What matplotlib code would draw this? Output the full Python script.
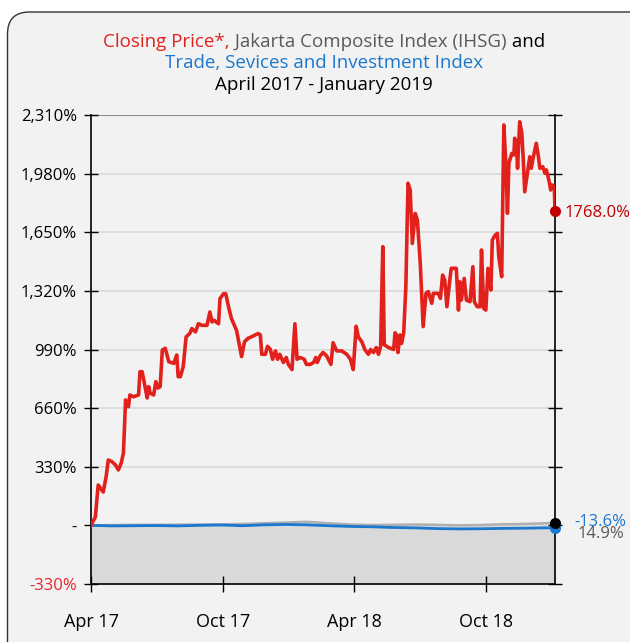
import matplotlib
matplotlib.use("Agg")
import matplotlib.pyplot as plt
from matplotlib.patches import FancyBboxPatch
import pandas as pd

plt.rcParams["font.family"] = ["Open Sans", "DejaVu Sans"]

# --- data (days since 1 Apr 2017, % change since start) ---------------------
START = pd.Timestamp("2017-04-01")

price_days = [0, 6, 10, 15, 17, 21, 24, 29, 34, 38, 42, 45, 48, 52, 54, 59, 66, 68,
              71, 74, 78, 80, 82, 87, 90, 93, 96, 99, 103, 108, 115, 119, 121,
              124, 128, 132, 137, 140, 145, 149, 154, 161, 165, 168, 171, 177,
              179, 184, 187, 191, 195, 199, 202, 206, 209, 213, 218, 223, 228,
              232, 235, 237, 242, 245, 249, 252, 256, 259, 262, 267, 271, 274,
              279, 283, 286, 290, 296, 299, 304, 309, 312, 314, 318, 322, 327,
              333, 336, 341, 348, 355, 360, 364, 368, 371, 376, 380, 385, 388,
              392, 396, 399, 402, 405, 407, 413, 420, 422, 424, 426, 429, 431,
              434, 437, 440, 443, 446, 450, 453, 457, 461, 465, 468, 473, 475,
              482, 485, 488, 491, 494, 498, 500, 507, 510, 512, 514, 518, 521,
              526, 530, 532, 536, 540, 542, 545, 548, 551, 555, 557, 561, 564,
              566, 570, 573, 576, 578, 580, 584, 587, 588, 591, 592, 595, 598,
              600, 602, 605, 609, 611, 614, 618, 621, 623, 627, 630, 632, 636,
              638, 640, 643, 644]
price_pct = [0, 47, 227, 199, 188, 274, 368, 359, 340, 312, 351, 408, 706, 668, 734,
             724, 734, 865, 865, 802, 717, 781, 745, 734, 809, 773, 781, 987,
             997, 921, 912, 959, 837, 837, 893, 1061, 1080, 1108, 1089, 1135,
             1126, 1126, 1201, 1145, 1154, 1135, 1276, 1304, 1304, 1228, 1163,
             1126, 1098, 1013, 950, 1033, 1053, 1062, 1072, 1080, 1072, 963,
             963, 1008, 990, 935, 982, 935, 963, 917, 945, 906, 877, 1135, 935,
             945, 935, 906, 906, 917, 945, 917, 954, 973, 954, 906, 1028, 982,
             982, 963, 935, 877, 1121, 1061, 1033, 990, 963, 990, 973, 1001,
             963, 1008, 1569, 1017, 1001, 990, 1084, 1072, 973, 1072, 1024,
             1084, 1344, 1926, 1888, 1587, 1756, 1718, 1475, 1119, 1306, 1316,
             1250, 1306, 1306, 1278, 1409, 1381, 1231, 1381, 1447, 1447, 1212,
             1371, 1268, 1390, 1268, 1259, 1456, 1259, 1231, 1231, 1550, 1222,
             1212, 1447, 1325, 1606, 1634, 1644, 1513, 1400, 2254, 2019, 1757,
             2038, 2094, 2085, 2179, 2113, 2010, 2272, 2207, 2057, 1878, 1963,
             2075, 2010, 2075, 2151, 2075, 2010, 2019, 1982, 2001, 1935, 1888,
             1916, 1907, 1768.0]

index_days = [0, 30, 60, 90, 120, 150, 180, 210, 240, 270, 300, 330, 360, 390, 420,
              450, 480, 510, 540, 570, 600, 630, 644]
ihsg_pct = [0, 2, 3, 3, 4, 5, 6, 8, 12, 16, 20, 12, 5, 2, 3, 5, 3, 0, 2, 6, 8, 12, 14.9]
trade_pct = [0, -3, -2, -1, -3, 0, 2, -2, 3, 5, 3, -2, -6, -8, -12, -14, -18, -20,
             -19, -17, -16, -14, -13.6]

yticks = [-330, 0, 330, 660, 990, 1320, 1650, 1980, 2310]
ytick_labels = ["-330%", "-", "330%", "660%", "990%", "1,320%", "1,650%", "1,980%", "2,310%"]
xticks = ["2017-04-01", "2017-10-01", "2018-04-01", "2018-10-01"]
xtick_labels = ["Apr 17", "Oct 17", "Apr 18", "Oct 18"]

RED = "#e2211c"
DARK_RED = "#c00000"
BLUE = "#1a78cf"
GREY_TXT = "#595959"
BG = "#f2f2f2"

price_dates = START + pd.to_timedelta(price_days, unit="D")
index_dates = START + pd.to_timedelta(index_days, unit="D")

# --- figure / card ------------------------------------------------------------
fig = plt.figure(figsize=(6.3, 6.42), dpi=100)
fig.patch.set_facecolor("white")
card = FancyBboxPatch((0.075, -0.5), 7.0, 6.80,
                      boxstyle="round,pad=0,rounding_size=0.22",
                      transform=fig.dpi_scale_trans, facecolor=BG,
                      edgecolor="#333333", linewidth=1.0, zorder=-10)
fig.patches.append(card)

ax = fig.add_axes([91 / 630, 1 - 584 / 642, (555 - 91) / 630, (584 - 115) / 642])
ax.set_facecolor(BG)

ax.fill_between(index_dates, ihsg_pct, -330, color="#d9d9d9", lw=0, zorder=1)
ax.plot(index_dates, ihsg_pct, color="#b0b0b0", lw=1.8, zorder=2)
ax.plot(index_dates, trade_pct, color=BLUE, lw=2.0, zorder=3)
ax.plot(price_dates, price_pct, color=RED, lw=2.6, zorder=4)

ax.plot(price_dates[-1], price_pct[-1], "o", color=DARK_RED, ms=7, zorder=5, clip_on=False)
ax.plot(index_dates[-1], trade_pct[-1], "o", color=BLUE, ms=7, zorder=5, clip_on=False)
ax.plot(index_dates[-1], ihsg_pct[-1], "o", color="black", ms=7, zorder=6, clip_on=False)

ax.set_xlim(price_dates[0], price_dates[-1])
ax.set_ylim(-330, 2310)

ax.set_yticks(yticks)
ax.set_yticklabels(ytick_labels, fontsize=12)
ax.get_yticklabels()[0].set_color("#e8262a")
ax.tick_params(axis="y", which="both", direction="inout", length=10, width=1,
               right=True, labelright=False, pad=5)
ax.set_xticks(pd.to_datetime(xticks))
ax.set_xticklabels(xtick_labels, fontsize=13)
ax.tick_params(axis="x", direction="inout", length=12, width=1, pad=15)

for y in yticks[1:-1]:
    ax.axhline(y, color="#d9d9d9", lw=1.2, zorder=0.5)
ax.axhline(2310, color="#8c8c8c", lw=1.5, zorder=0.5)
for side in ("left", "right", "bottom"):
    ax.spines[side].set_color("black")
    ax.spines[side].set_linewidth(1.2)
ax.spines["top"].set_visible(False)

# end labels
ax.annotate(f"{price_pct[-1]:.1f}%", (price_dates[-1], price_pct[-1]),
            xytext=(7, -1), textcoords="offset points", va="center", ha="left",
            color=DARK_RED, fontsize=12, annotation_clip=False)
ax.annotate(f"{trade_pct[-1]:.1f}%", (index_dates[-1], trade_pct[-1]),
            xytext=(14, 4), textcoords="offset points", va="center", ha="left",
            color=BLUE, fontsize=12, annotation_clip=False)
ax.annotate(f"{ihsg_pct[-1]:.1f}%", (index_dates[-1], ihsg_pct[-1]),
            xytext=(16, -8), textcoords="offset points", va="center", ha="left",
            color=GREY_TXT, fontsize=12, annotation_clip=False)

# --- multi-coloured title -----------------------------------------------------
renderer = fig.canvas.get_renderer()
title_lines = [
    [("Closing Price*,", RED), (" Jakarta Composite Index (IHSG)", GREY_TXT), (" and", "black")],
    [("Trade, Sevices and Investment Index", BLUE)],
    [("April 2017 - January 2019", "black")],
]
line_y = [42, 63, 85]
cx = 324 / 630
for parts, ypix in zip(title_lines, line_y):
    texts = [fig.text(0, 1 - ypix / 642, s, color=c, fontsize=13.5, va="center", ha="left")
             for s, c in parts]
    widths = [t.get_window_extent(renderer).width / 630 for t in texts]
    x = cx - sum(widths) / 2
    for t, w in zip(texts, widths):
        t.set_x(x)
        x += w

fig.savefig("out.png", dpi=100)
